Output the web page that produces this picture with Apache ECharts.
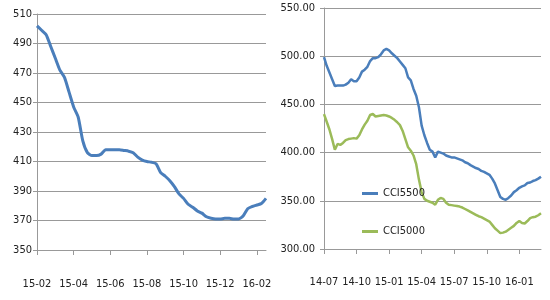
<!DOCTYPE html>
<html>
<head>
<meta charset="utf-8">
<script src="https://cdn.jsdelivr.net/npm/echarts@6/dist/echarts.min.js"></script>
<style>
html,body{margin:0;padding:0;background:#fff;}
#c{width:550px;height:300px;}
</style>
</head>
<body>
<div id="c"></div>
<script>
// Left chart: quarter-month steps from 15-02
var leftTickLabels = ['15-02','15-04','15-06','15-08','15-10','15-12','16-02'];
var leftValues = [502, 499, 496, 488, 480, 472, 467, 457, 447, 440, 424, 416, 414, 414, 415, 418, 418, 418, 418, 417.5, 417, 416, 413, 411, 410, 409.5, 408.5, 402.5, 400, 397, 393, 388, 385, 381, 379, 376.5, 375, 372.5, 371.5, 371, 371, 371.5, 371.5, 371, 371, 373, 378, 379.5, 380.5, 381.5, 385];
var leftYTicks = [350, 370, 390, 410, 430, 450, 470, 490, 510];

// Right chart: quarter-month steps from 14-07
var rightTickLabels = ['14-07','14-10','15-01','15-04','15-07','15-10','16-01'];
var cci5500 = [499, 490, 483, 476, 469, 469.5, 469.5, 469.5, 470.5, 472.5, 476, 474, 474, 478, 484, 486, 489, 495, 498, 498, 499, 502, 506, 507.5, 506, 503, 500.5, 498, 494.5, 491, 487.5, 478, 475, 466, 459, 447, 428, 418, 410, 403, 401, 395, 401, 400, 399, 397, 396, 395, 395, 394, 393, 392, 390, 389, 387, 385.5, 384, 383, 381, 380, 378.5, 377, 373, 368, 361, 354, 352, 351, 353, 355.5, 359, 361, 363.5, 365, 366, 368.5, 369, 370.5, 371.5, 373, 375];
var cci5000 = [440, 432, 424, 414, 403, 409, 408, 410, 413, 414, 414.5, 415, 414.5, 418, 424, 429, 433, 439, 440, 437.5, 438, 438.5, 439, 438.5, 437.5, 436, 434, 431.5, 428.5, 422.5, 414, 405.5, 402, 397, 388, 372, 359, 352, 350, 349, 348, 346, 351, 353, 352, 348, 346, 345.5, 345, 344.5, 344, 343, 341.5, 340, 338.5, 337, 335.5, 334, 333, 331.5, 330, 328.5, 325, 321.5, 319, 316.5, 317, 318, 320, 322, 324, 327, 329, 327, 326.5, 329, 332, 333, 333.5, 335, 337];
var rightYTicks = [300, 350, 400, 450, 500, 550];
var seriesNames = ['CCI5500', 'CCI5000'];

var leftCats = leftValues.map(function (_, i) { return 'L' + i; });
var rightCats = cci5500.map(function (_, i) { return 'R' + i; });

var FONT = "'Liberation Sans Narrow', 'DejaVu Sans Condensed', sans-serif";
var TXT = '#222';
var GRID = '#999';
var BLUE = '#4A7EBB';
var GREEN = '#9BBB59';

function xAxisFor(gridIndex, cats, step, labels, margin) {
  return {
    type: 'category', gridIndex: gridIndex, data: cats, boundaryGap: false,
    axisLine: { show: true, lineStyle: { color: GRID, width: 1 } },
    axisTick: { show: true, length: 5, lineStyle: { color: GRID },
      interval: function (i) { return i % step === 0; } },
    axisLabel: { interval: function (i) { return i % step === 0; },
      margin: margin, color: TXT, fontFamily: FONT, fontSize: 11,
      formatter: function (v, i) { return labels[i / step] || ''; } },
    splitLine: { show: false }
  };
}

var chart = echarts.init(document.getElementById('c'), null, { renderer: 'canvas' });
chart.setOption({
  animation: false,
  backgroundColor: '#fff',
  grid: [
    { left: 37, top: 14, width: 229, height: 236 },
    { left: 324, top: 8, width: 217, height: 241 }
  ],
  xAxis: [
    xAxisFor(0, leftCats, 8, leftTickLabels, 29),
    xAxisFor(1, rightCats, 12, rightTickLabels, 28)
  ],
  yAxis: [
    { type: 'value', gridIndex: 0, min: leftYTicks[0], max: leftYTicks[leftYTicks.length - 1], interval: 20,
      axisLine: { show: true, lineStyle: { color: GRID } },
      axisTick: { show: true, length: 4, lineStyle: { color: GRID } },
      axisLabel: { margin: 5, color: TXT, fontFamily: FONT, fontSize: 11 },
      splitLine: { show: true, lineStyle: { color: GRID, width: 1 } } },
    { type: 'value', gridIndex: 1, min: rightYTicks[0], max: rightYTicks[rightYTicks.length - 1], interval: 50,
      axisLine: { show: true, lineStyle: { color: GRID } },
      axisTick: { show: true, length: 4, lineStyle: { color: GRID } },
      axisLabel: { margin: 9, color: TXT, fontFamily: FONT, fontSize: 11,
        formatter: function (v) { return v.toFixed(2); } },
      splitLine: { show: true, lineStyle: { color: GRID, width: 1 } } }
  ],
  legend: {
    data: [
      { name: seriesNames[0], icon: 'rect', itemStyle: { color: BLUE } },
      { name: seriesNames[1], icon: 'rect', itemStyle: { color: GREEN } }
    ],
    orient: 'vertical', left: 357, top: 183,
    itemWidth: 16, itemHeight: 3, itemGap: 27,
    textStyle: { color: TXT, fontFamily: FONT, fontSize: 11 }
  },
  series: [
    { type: 'line', name: 'left', xAxisIndex: 0, yAxisIndex: 0, data: leftValues,
      symbol: 'none', smooth: 0.2, lineStyle: { color: BLUE, width: 3 }, itemStyle: { color: BLUE } },
    { type: 'line', name: seriesNames[0], xAxisIndex: 1, yAxisIndex: 1, data: cci5500,
      symbol: 'none', lineStyle: { color: BLUE, width: 2.5 }, itemStyle: { color: BLUE } },
    { type: 'line', name: seriesNames[1], xAxisIndex: 1, yAxisIndex: 1, data: cci5000,
      symbol: 'none', lineStyle: { color: GREEN, width: 2.5 }, itemStyle: { color: GREEN } }
  ]
});
</script>
</body>
</html>
